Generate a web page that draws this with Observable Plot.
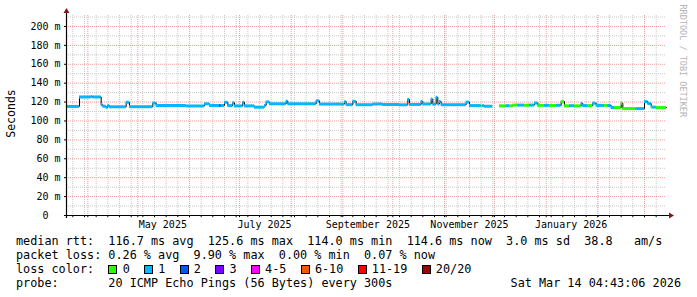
<!DOCTYPE html>
<html><head><meta charset="utf-8">
<script src="https://cdn.jsdelivr.net/npm/d3@7"></script>
<script src="https://cdn.jsdelivr.net/npm/@observablehq/plot@0.6"></script>
<style>
body{margin:0;background:#fff;}
#legend{font-family:"DejaVu Sans Mono",monospace;font-size:11.8px;line-height:14px;padding-left:16px;width:665px;white-space:pre;color:#000}
.row{height:14px;display:flex;align-items:center}
.box{display:inline-block;width:7px;height:7px;border:1px solid #000;margin-right:5.3px}
.item{display:inline-flex;align-items:center}
</style></head><body>
<div id="chart"></div>
<div id="legend"></div>
<script>
const startTime = "2025-03-19T04:43:06Z";
const endTime = "2026-03-14T04:43:06Z";

// median RTT step segments: start date, value (ms), lost pings (of 20)
const segDates = ["2025-03-19T04:43:06Z","2025-03-27","2025-04-03","2025-04-04","2025-04-09","2025-04-10","2025-04-12","2025-04-13","2025-04-14","2025-04-24","2025-04-26","2025-05-10","2025-05-12","2025-05-30","2025-06-10","2025-06-13","2025-06-19","2025-06-20","2025-06-22","2025-06-24","2025-06-27","2025-06-28","2025-07-03","2025-07-04","2025-07-10","2025-07-16","2025-07-17","2025-07-19","2025-07-29","2025-07-30","2025-08-16","2025-08-18","2025-09-02","2025-09-03","2025-09-07","2025-09-09","2025-09-19","2025-09-25","2025-10-05","2025-10-10","2025-10-11","2025-10-18","2025-10-19","2025-10-24","2025-10-25","2025-10-27","2025-10-28","2025-10-29","2025-10-30","2025-11-14","2025-11-16","2025-11-23","2025-11-24","2025-11-25","2025-11-30","2025-12-04","2025-12-08","2025-12-10","2025-12-12","2025-12-15","2025-12-19","2025-12-22","2025-12-25","2025-12-27","2025-12-31","2026-01-03","2026-01-07","2026-01-10","2026-01-12","2026-01-15","2026-01-18","2026-01-22","2026-01-23","2026-01-26","2026-01-29","2026-01-31","2026-02-05","2026-02-07","2026-02-09","2026-02-11","2026-02-15","2026-02-16","2026-02-24","2026-03-01","2026-03-03","2026-03-05","2026-03-06","2026-03-08"];
const segMedian = [115.4,125.4,125.9,125.4,117.2,115.6,114.4,116.3,115.0,119.8,115.1,119.0,116.4,115.9,118.2,116.4,116.4,116.4,119.8,116.3,119.3,116.0,119.8,116.0,114.6,116.5,120.2,118.2,121.0,118.2,121.3,117.9,120.3,117.3,120.8,117.2,118.0,117.4,117.1,122.9,117.5,120.6,118.0,123.2,117.8,125.0,118.0,120.5,117.2,120.0,116.3,116.0,116.3,115.6,null,116.0,116.2,116.0,116.8,116.8,116.6,116.8,119.0,116.5,116.5,116.4,116.6,120.5,116.0,116.2,116.0,118.5,116.3,116.3,118.8,116.5,116.5,116.4,114.2,114.2,118.8,113.1,113.1,120.5,118.5,114.7,114.7,114.2];
const segLoss = [1,1,1,1,1,1,1,1,1,1,1,1,1,1,1,1,2,1,1,1,1,1,1,1,1,1,1,1,1,1,1,1,1,1,1,1,1,1,1,1,1,1,1,1,1,1,1,1,1,1,1,0,1,1,1,0,1,0,0,1,0,1,1,0,1,0,1,0,0,1,0,1,1,0,1,1,0,1,1,0,0,0,1,1,1,0,1,0];

const lossLabels = ["0","1","2","3","4-5","6-10","11-19","20/20"];
const lossColors = ["#26ff00","#00b8ff","#0059ff","#7e00ff","#ff00ff","#ff5500","#ff0000","#a10000"];

const yTicks = [0,20,40,60,80,100,120,140,160,180,200];
const yMinor = [10,30,50,70,90,110,130,150,170,190,210];
const xLabelDates = ["2025-05-16","2025-07-16","2025-09-16","2025-11-16","2026-01-16"];
const xLabelText = ["May 2025","July 2025","September 2025","November 2025","January 2026"];

const rttValues = ["116.7","125.6","114.0","114.6","3.0"];
const rttNames = ["avg","max","min","now","sd"];
const amValue = "38.8";
const lossValues = ["0.26","9.90","0.00","0.07"];
const lossNames = ["avg","max","min","now"];
const probeText = "20 ICMP Echo Pings (56 Bytes) every 300s";
const stampText = "Sat Mar 14 04:43:06 2026";

const t0 = new Date(startTime), t1 = new Date(endTime);
const segs = segDates.map((d, i) => ({
  start: new Date(d),
  end: new Date(i + 1 < segDates.length ? segDates[i + 1] : endTime),
  ms: segMedian[i],
  loss: lossLabels[segLoss[i]]
}));
const linePts = segs.map(s => ({date: s.start, ms: s.ms}));
linePts.push({date: t1, ms: segMedian[segMedian.length - 1]});
const drawn = segs.filter(s => s.ms != null);

const weeks = d3.utcSunday.range(t0, t1);
const months = d3.utcMonth.range(t0, t1);
const labelDates = xLabelDates.map(d => new Date(d));

const chart = Plot.plot({
  width: 697, height: 234,
  marginLeft: 66, marginRight: 31, marginTop: 15, marginBottom: 19,
  style: {fontFamily: "DejaVu Sans Mono", fontSize: "10px", background: "white", overflow: "visible", color: "#000"},
  x: {type: "utc", domain: [t0, t1], ticks: labelDates, tickSize: 0, tickPadding: 5,
      tickFormat: d => xLabelText[labelDates.findIndex(t => +t === +d)], label: null},
  y: {domain: [0, 211.6], ticks: yTicks, tickSize: 2, tickPadding: 4,
      tickFormat: d => d === 0 ? "0\u00a0\u00a0" : d + " m", label: null},
  color: {type: "ordinal", domain: lossLabels, range: lossColors},
  marks: [
    Plot.ruleY(yMinor, {stroke: "#c8c8c8", strokeDasharray: "1,1"}),
    Plot.ruleX(weeks, {stroke: "#c8c8c8", strokeDasharray: "1,1"}),
    Plot.ruleY(yTicks.filter(d => d > 0), {stroke: "#e8a0a0", strokeDasharray: "1,1"}),
    Plot.ruleX(months, {stroke: "#e8a0a0", strokeDasharray: "1,1"}),
    Plot.ruleX(weeks.concat(months), {y1: 0, y2: -2.3, stroke: "#000"}),
    Plot.line(linePts, {x: "date", y: "ms", curve: "step-after", stroke: "#000", strokeWidth: 1}),
    Plot.ruleY(drawn, {y: "ms", x1: "start", x2: "end", stroke: "loss", strokeWidth: 3}),
    Plot.text(["Seconds"], {text: d => d, frameAnchor: "left", textAnchor: "middle", rotate: -90, dx: -55, dy: -2, fontSize: 11.5}),
    Plot.text(["RRDTOOL / TOBI OETIKER"], {text: d => d, frameAnchor: "top-right", rotate: 90, textAnchor: "start", dx: 20, dy: -11, fontSize: 8.5, fill: "#b4b4b4"})
  ]
});

// axis lines with arrowheads
const [xl, xr] = chart.scale("x").range;
const [yb, yt] = chart.scale("y").range;
const g = d3.select(chart).append("g");
g.append("line").attr("x1", xl).attr("x2", xr + 4).attr("y1", yb + 0.5).attr("y2", yb + 0.5).attr("stroke", "#000").attr("stroke-width", 1.2);
g.append("line").attr("x1", xl + 0.5).attr("x2", xl + 0.5).attr("y1", yb + 3).attr("y2", yt - 3).attr("stroke", "#000").attr("stroke-width", 1.2);
g.append("path").attr("d", `M${xr + 3},${yb - 2.5}L${xr + 8},${yb + 0.5}L${xr + 3},${yb + 3.5}Z`).attr("fill", "#7f1a1a");
g.append("path").attr("d", `M${xl - 2.5},${yt - 2}L${xl + 0.5},${yt - 7}L${xl + 3.5},${yt - 2}Z`).attr("fill", "#7f1a1a");

document.getElementById("chart").append(chart);

// legend rows
const leg = document.getElementById("legend");
function row() { const r = document.createElement("div"); r.className = "row"; leg.append(r); return r; }
row().textContent = "median rtt:  " + rttValues.map((v, i) => `${v} ms ${rttNames[i]}`).join("  ") + `  ${amValue}   am/s`;
row().textContent = "packet loss: " + lossValues.map((v, i) => `${v} % ${lossNames[i]}`).join("  ");
const r3 = row();
r3.append(document.createTextNode("loss color:  "));
lossLabels.forEach((l, i) => {
  const it = document.createElement("span"); it.className = "item";
  const b = document.createElement("span"); b.className = "box"; b.style.background = lossColors[i];
  it.append(b, document.createTextNode(l + "  "));
  r3.append(it);
});
const r4 = row();
r4.style.justifyContent = "space-between";
const p1 = document.createElement("span"); p1.textContent = "probe:       " + probeText;
const p2 = document.createElement("span"); p2.textContent = stampText;
r4.append(p1, p2);
</script>
</body></html>
